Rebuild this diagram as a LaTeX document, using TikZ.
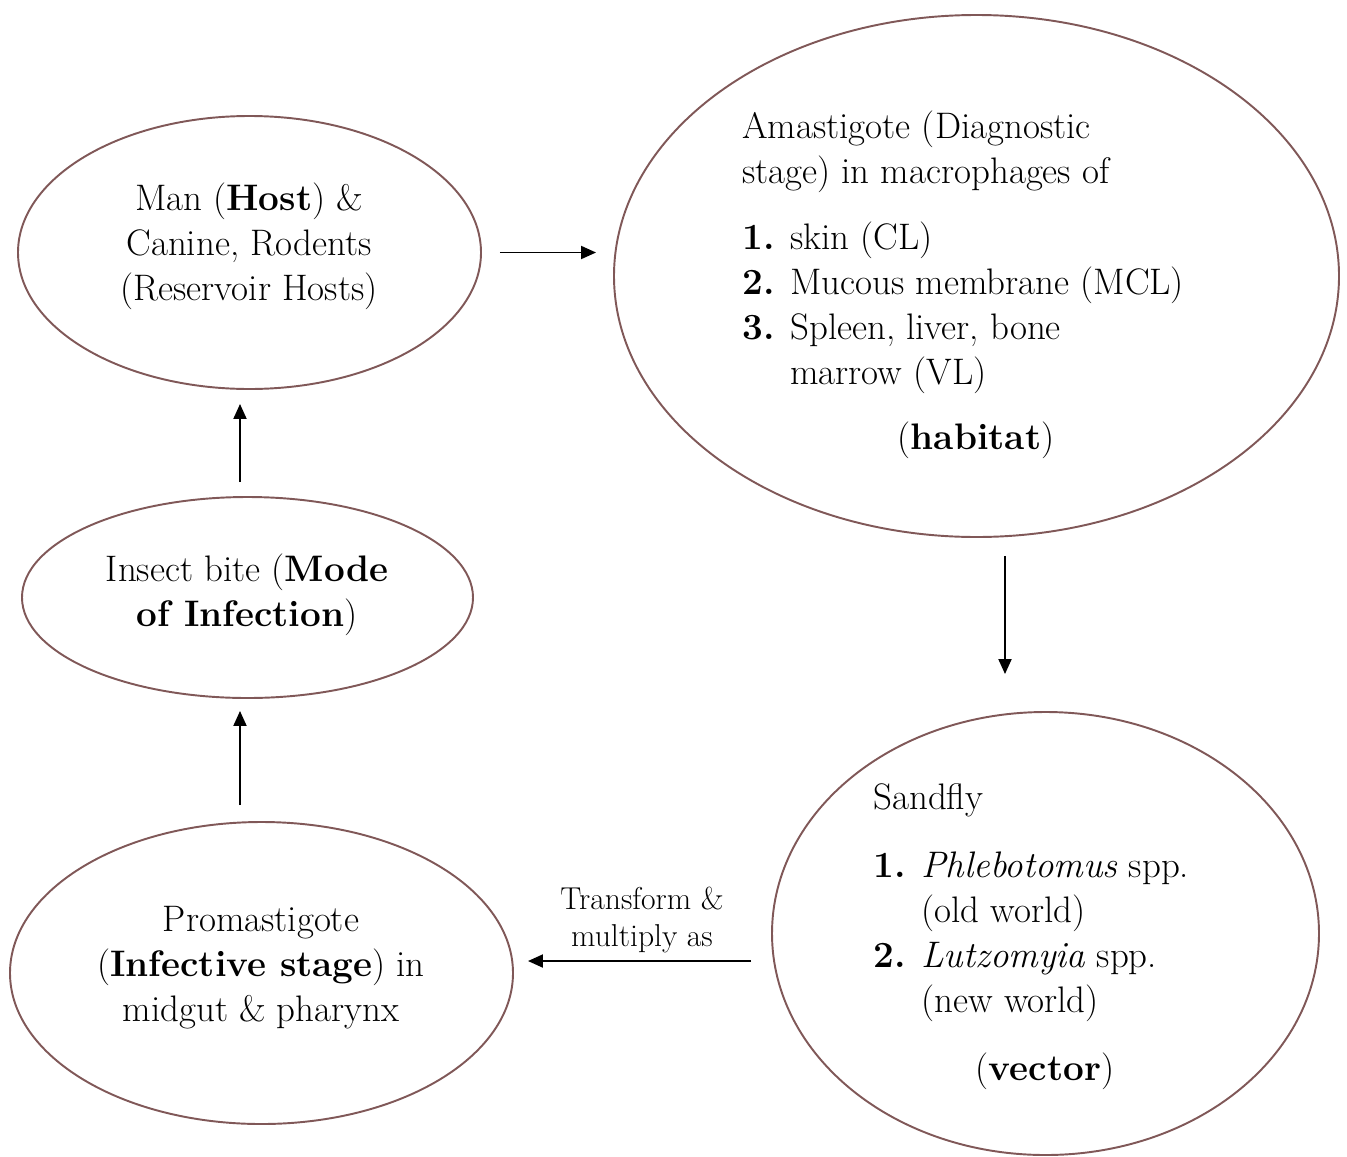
\documentclass[tikz,border=0pt]{standalone}
\definecolor{ovalbrown}{RGB}{128, 88, 88}
\usepackage{tikz}
\usetikzlibrary{shapes.geometric, arrows.meta, positioning, calc}

\newcommand{\itemno}[1]{\makebox[0.96cm][l]{\textbf{#1.}}}
\newcommand{\itemgap}{\hspace*{0.96cm}}

\begin{document}
\begin{tikzpicture}[
  oval/.style={draw=ovalbrown, line width=1.1pt, ellipse, inner sep=0pt},
  lbl/.style={font=\fontsize{21}{25.6}\selectfont, inner sep=0pt},
  flow/.style={-{Triangle[length=0.3cm, width=0.26cm]}, line width=1.1pt}
]
  \useasboundingbox (0,0) rectangle (26.94,-23.12);

  % The ovals
  \node[oval, minimum width=9.26cm, minimum height=5.46cm] (man) at (4.99, -5.05) {};
  \node[oval, minimum width=14.5cm, minimum height=10.44cm] (ama) at (19.53, -5.52) {};
  \node[oval, minimum width=9.02cm, minimum height=4.02cm] (bite) at (4.95, -11.95) {};
  \node[oval, minimum width=10.06cm, minimum height=6.04cm] (prom) at (5.23, -19.46) {};
  \node[oval, minimum width=10.94cm, minimum height=8.86cm] (sand) at (20.91, -18.67) {};

  % Texts (anchored at the baseline of the last line)
  \node[lbl, align=center, anchor=base] (mantext) at (4.98, -6.00) {Man (\textbf{Host}) \&\\Canine, Rodents\\(Reservoir Hosts)};
  \node[lbl, align=left, anchor=base west] (amatext) at (14.84, -7.68) {
    Amastigote (Diagnostic\\
    stage) in macrophages of\\[0.42cm]
    \itemno{1}skin (CL)\\
    \itemno{2}Mucous membrane (MCL)\\
    \itemno{3}Spleen, liver, bone\\
    \itemgap marrow (VL)
  };
  \node[lbl, anchor=base] (habitat) at (19.52, -8.98) {(\textbf{habitat})};
  \node[lbl, align=center, anchor=base] (bitetext) at (4.94, -12.52) {Insect bite (\textbf{Mode}\\\textbf{of Infection})};
  \node[lbl, align=center, anchor=base] (promtext) at (5.22, -20.42) {Promastigote\\(\textbf{Infective stage}) in\\midgut \& pharynx};
  \node[lbl, align=left, anchor=base west] (sandtext) at (17.46, -20.24) {
    Sandfly\\[0.46cm]
    \itemno{1}\textit{Phlebotomus} spp.\\
    \itemgap(old world)\\
    \itemno{2}\textit{Lutzomyia} spp.\\
    \itemgap(new world)
  };
  \node[lbl, anchor=base] (vector) at (20.9, -21.6) {(\textbf{vector})};
  \node[font=\fontsize{18}{21}\selectfont, inner sep=0pt, align=center, anchor=base] (trlabel) at (12.84, -18.92) {Transform \&\\multiply as};

  % Arrows
  \coordinate (amaout) at ([xshift=0.57cm]ama.south);
  \coordinate (promin) at ([yshift=0.24cm]prom.east);
  \coordinate (promout) at ([xshift=-0.43cm]prom.north);
  \coordinate (biteout) at ([xshift=-0.15cm]bite.north);

  \draw[flow, shorten <=0.36cm, shorten >=0.34cm] (man.east) -- (man.east -| ama.west);
  \draw[flow, shorten <=0.36cm, shorten >=0.74cm] (amaout) -- (amaout |- sand.north);
  \draw[flow, shorten <=0.40cm, shorten >=0.28cm] (promin -| sand.west) -- (promin);
  \draw[flow, shorten <=0.32cm, shorten >=0.24cm] (promout) -- (promout |- bite.south);
  \draw[flow, shorten <=0.28cm, shorten >=0.28cm] (biteout) -- (biteout |- man.south);
\end{tikzpicture}
\end{document}
